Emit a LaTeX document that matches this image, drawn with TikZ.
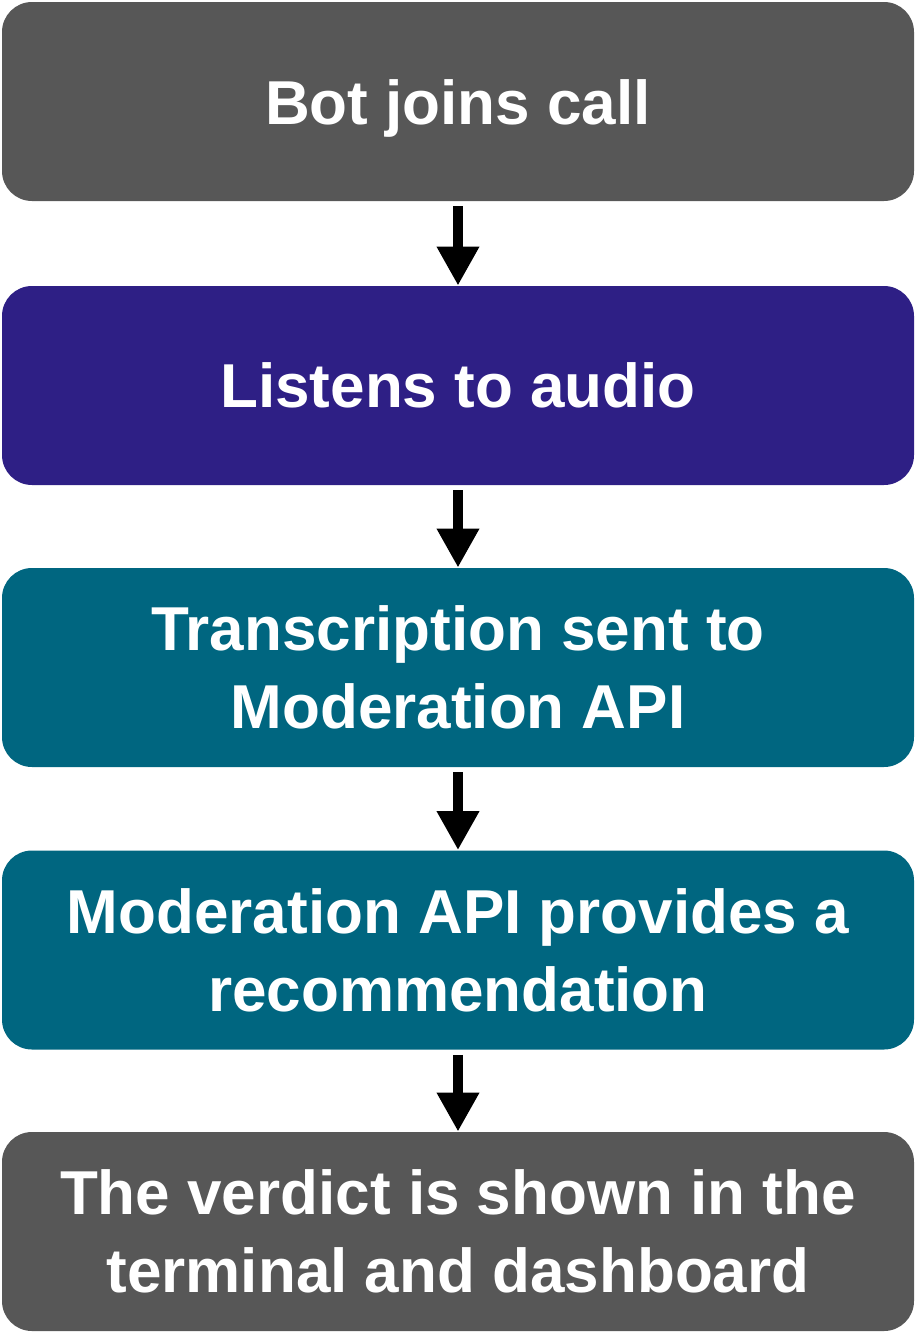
\documentclass[tikz,border=0pt]{standalone}
\usepackage{fontspec}
\setmainfont{Liberation Sans}
\usetikzlibrary{arrows.meta}
\definecolor{greybox}{HTML}{575757}
\definecolor{indigobox}{HTML}{2E1F85}
\definecolor{tealbox}{HTML}{006680}
\tikzset{
  stepbox/.style={rounded corners=15pt, minimum width=456pt, minimum height=99.5pt,
    text=white, align=center, inner sep=0pt,
    font=\fontsize{31pt}{39pt}\selectfont\bfseries},
  flow/.style={line width=5pt, -{Triangle[width=20pt,length=19.5pt]}, shorten <=2.5pt}
}
\begin{document}
\begin{tikzpicture}[x=0.5pt,y=-0.5pt]
\useasboundingbox (0,0) rectangle (916,1334);
\node[stepbox, fill=greybox] (join) at (458,101.5) {};
\node at (join.center) [text=white, font=\fontsize{31pt}{39pt}\selectfont\bfseries, yshift=-3.5pt] (jointext) {Bot joins call};
\node[stepbox, fill=indigobox] (listen) at (458,385.5) {Listens to audio};
\node[stepbox, fill=tealbox] (transcribe) at (458,667.5) {Transcription sent to\\Moderation API};
\node[stepbox, fill=tealbox] (recommend) at (458,950) {Moderation API provides a\\recommendation};
\node[stepbox, fill=greybox] (verdict) at (458,1231.5) {The verdict is shown in the\\terminal and dashboard};
\draw[flow] (join) -- (listen);
\draw[flow] (listen) -- (transcribe);
\draw[flow] (transcribe) -- (recommend);
\draw[flow] (recommend) -- (verdict);
\end{tikzpicture}
\end{document}
